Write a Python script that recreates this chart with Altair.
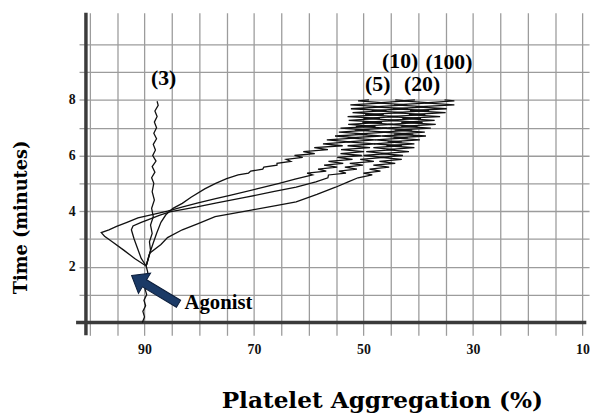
import altair as alt
import pandas as pd

# ---------------- data ----------------
# common baseline trace before agonist addition
base_t = [0.0, 0.2, 0.4, 0.6, 0.8, 1.0, 1.2, 1.4, 1.6, 1.8, 2.03]
base_v = [90.4, 90.0, 90.3, 89.8, 90.1, 89.6, 89.9, 89.5, 89.8, 89.4, 89.7]

# (3)
s3_t = [2.03, 2.3, 2.6, 2.9, 3.2, 3.5, 3.8, 4.1, 4.4, 4.7, 5.0, 5.2, 5.4, 5.6, 5.8,
        6.0, 6.2, 6.4, 6.6, 6.8, 7.0, 7.2, 7.4, 7.6, 7.8, 7.95]
s3_v = [89.7, 89.3, 88.9, 89.1, 88.6, 88.9, 88.4, 88.7, 88.2, 88.6, 88.3, 88.7, 88.1, 88.6, 87.9,
        88.5, 88.0, 88.4, 87.8, 88.3, 87.8, 88.2, 87.7, 88.1, 87.5, 87.7]

# sampling times of the noisy upper part (shared by the four aggregating traces)
zz_t = [5.30, 5.37, 5.44, 5.51, 5.58, 5.65, 5.72, 5.79, 5.86, 5.93,
        6.00, 6.07, 6.14, 6.21, 6.28, 6.35, 6.42, 6.49, 6.56, 6.63,
        6.70, 6.77, 6.84, 6.91, 6.98, 7.05, 7.12, 7.19, 7.26, 7.33,
        7.40, 7.47, 7.54, 7.61, 7.68, 7.75, 7.82, 7.89, 7.96, 8.00]

# (5)
s5_t = [2.03, 2.4, 2.8, 3.2, 3.6, 3.87, 4.1, 4.28, 4.5, 4.8, 5.0, 5.17]
s5_v = [89.7, 89.2, 88.5, 87.8, 87.0, 86.1, 84.8, 83.1, 81.5, 79.0, 77.0, 75.0]
s5_zz = [72.9, 71.0, 70.6, 68.4, 68.2, 65.8, 65.8, 63.3, 64.1, 61.1,
         62.6, 58.9, 61.0, 56.5, 59.0, 53.8, 57.4, 52.4, 56.7, 50.9,
         55.2, 49.3, 54.5, 48.9, 54.2, 47.8, 52.8, 46.6, 52.7, 47.0,
         52.9, 46.3, 52.0, 45.8, 52.3, 46.4, 52.4, 46.1, 51.0, 49.0]

# (10)
s10_t = [2.03, 2.3, 2.6, 2.9, 3.1, 3.23, 3.33, 3.45, 3.6, 3.76, 3.9, 4.0, 4.15, 4.29,
         4.45, 4.57, 4.8, 5.0, 5.15]
s10_v = [89.7, 91.8, 93.8, 95.9, 97.3, 97.9, 96.5, 95.1, 93.2, 91.2, 88.0, 85.8, 83.0, 80.4,
         77.0, 74.4, 69.5, 65.4, 62.5]
s10_zz = [59.3, 60.3, 56.8, 58.3, 54.8, 57.2, 53.7, 56.4, 52.0, 54.8,
          50.3, 54.2, 49.9, 54.1, 48.8, 52.9, 47.8, 53.1, 47.8, 52.9,
          46.7, 51.6, 45.6, 51.6, 45.7, 51.4, 44.6, 50.2, 43.6, 50.0,
          43.7, 49.7, 42.8, 48.5, 41.9, 48.2, 42.0, 47.5, 42.1, 44.2]

# (20)
s20_t = [2.03, 2.3, 2.62, 3.0, 3.33, 3.47, 3.6, 3.69, 3.85, 3.97, 4.15, 4.3, 4.5, 4.7,
         4.86, 5.05, 5.2]
s20_v = [89.7, 90.6, 91.2, 91.9, 92.4, 92.1, 90.6, 89.4, 87.3, 85.4, 80.4, 76.8, 71.4, 66.5,
         62.3, 58.7, 56.5]
s20_zz = [56.4, 53.2, 54.5, 51.2, 53.4, 50.1, 52.5, 48.1, 50.6, 46.2,
          50.0, 45.7, 49.5, 44.3, 48.2, 43.0, 48.1, 43.0, 47.9, 41.9,
          46.7, 40.9, 46.7, 41.1, 46.6, 40.1, 45.5, 39.2, 45.5, 39.5,
          45.6, 38.7, 44.5, 38.0, 44.6, 38.3, 44.4, 37.7, 43.1, 40.6]

# (100)
s100_t = [2.03, 2.5, 2.8, 3.05, 3.33, 3.55, 3.8, 4.04, 4.2, 4.33, 4.6, 4.86, 5.05, 5.2]
s100_v = [89.7, 89.0, 87.0, 85.8, 83.1, 80.2, 77.1, 70.5, 66.0, 62.3, 58.5, 55.1, 52.8, 51.0]
s100_zz = [48.4, 50.0, 46.9, 48.9, 45.3, 48.2, 44.2, 47.1, 43.0, 46.9,
           42.8, 46.8, 41.7, 45.8, 40.7, 45.8, 40.7, 45.6, 39.7, 44.5,
           38.6, 44.4, 38.8, 44.3, 37.7, 43.1, 36.8, 43.1, 37.0, 42.9,
           36.0, 41.7, 35.0, 41.5, 34.8, 40.5, 33.4, 38.8, 33.4, 35.2]

# curve labels
lab_text = ["(3)", "(5)", "(10)", "(20)", "(100)"]
lab_v = [86.5, 47.4, 43.3, 39.3, 34.4]
lab_t = [8.77, 8.58, 9.4, 8.57, 9.35]

# agonist annotation
agonist_text = ["Agonist"]
agonist_v = [82.7]
agonist_t = [0.5]
arrow_v = [88.07]
arrow_t = [1.18]

# axes
x_domain = [8.8, 100.7]
y_domain = [0, 11.13]
x_ticks = [10, 15, 20, 25, 30, 35, 40, 45, 50, 55, 60, 65, 70, 75, 80, 85, 90, 95, 100]
x_labels = [90, 70, 50, 30, 10]
y_ticks = [1, 2, 3, 4, 5, 6, 7, 8, 9, 10]
y_labels = [2, 4, 6, 8]
x_axis_span = [102.5, 9.3]
y_axis_span = [-0.46, 11.13]

# ---------------- build tables ----------------
rows = []
def add(name, ts, vs):
    assert len(ts) == len(vs), name
    for i, (t, v) in enumerate(zip(ts, vs)):
        rows.append({"series": name, "i": i, "t": t, "v": v})

add("base", base_t, base_v)
add("3", s3_t, s3_v)
add("5", s5_t + zz_t, s5_v + s5_zz)
add("10", s10_t + zz_t, s10_v + s10_zz)
add("20", s20_t + zz_t, s20_v + s20_zz)
add("100", s100_t + zz_t, s100_v + s100_zz)
df = pd.DataFrame(rows)

labels = pd.DataFrame({"text": lab_text, "v": lab_v, "t": lab_t})
ag = pd.DataFrame({"text": agonist_text, "v": agonist_v, "t": agonist_t})
arr = pd.DataFrame({"v": arrow_v, "t": arrow_t})
one = pd.DataFrame({"a": [0]})

x_scale = alt.Scale(domain=x_domain, reverse=True, nice=False, zero=False)
y_scale = alt.Scale(domain=y_domain, nice=False, zero=False)

grid_col = "#9c9c9c"
x_axis = alt.Axis(
    values=x_ticks, tickCount=40, format="d",
    labelExpr=f"indexof({x_labels}, datum.value) >= 0 ? datum.label : ''",
    labelOverlap=False,
    grid=True, gridColor=grid_col, gridWidth=1.3,
    ticks=True, tickColor=grid_col, tickWidth=1.3, tickSize=13,
    domain=False,
    labelFont="Liberation Serif", labelFontWeight="bold", labelFontSize=14,
    labelColor="#111", labelPadding=7,
    title="Platelet Aggregation (%)",
    titleFont="DejaVu Serif", titleFontWeight="bold", titleFontSize=23.5,
    titleColor="#000", titleX=300, titleY=86, titleAlign="center",
    titleBaseline="alphabetic",
)
y_axis = alt.Axis(
    values=y_ticks, tickCount=40, format="d",
    labelExpr=f"indexof({y_labels}, datum.value) >= 0 ? datum.label : ''",
    labelOverlap=False,
    grid=True, gridColor=grid_col, gridWidth=1.3,
    ticks=True, tickColor=grid_col, tickWidth=1.3, tickSize=7,
    domain=False,
    labelFont="Liberation Serif", labelFontWeight="bold", labelFontSize=14,
    labelColor="#111", labelPadding=4,
    title="Time (minutes)",
    titleFont="DejaVu Serif", titleFontWeight="bold", titleFontSize=18,
    titleColor="#000", titleX=-65, titleY=207, titleAlign="center",
    titleBaseline="middle", titleAngle=270,
)

lines = alt.Chart(df).mark_line(color="#111", strokeWidth=1.3).encode(
    x=alt.X("v:Q", scale=x_scale, axis=x_axis),
    y=alt.Y("t:Q", scale=y_scale, axis=y_axis),
    detail="series:N",
    order="i:Q",
)

x_rule = alt.Chart(one).mark_rule(color="#3b3b3b", strokeWidth=3.5).encode(
    x=alt.datum(x_axis_span[0]), x2=alt.datum(x_axis_span[1]), y=alt.datum(0)
)
y_rule = alt.Chart(one).mark_rule(color="#3b3b3b", strokeWidth=3.5).encode(
    x=alt.datum(x_domain[1]), y=alt.datum(y_axis_span[0]), y2=alt.datum(y_axis_span[1])
)

lab = alt.Chart(labels).mark_text(
    font="Liberation Serif", fontWeight="bold", fontSize=22, color="#000",
    align="center", baseline="middle"
).encode(x="v:Q", y="t:Q", text="text:N")

ag_text = alt.Chart(ag).mark_text(
    font="Liberation Serif", fontWeight="bold", fontSize=21, color="#000",
    align="left", baseline="alphabetic"
).encode(x="v:Q", y="t:Q", text="text:N")

arrow_shape = "M-1,0L-0.45,-0.43L-0.45,-0.15L1,-0.15L1,0.15L-0.45,0.15L-0.45,0.43Z"
arrow = alt.Chart(arr).mark_point(
    shape=arrow_shape, size=3080, angle=31, filled=True,
    fill="#1b3a66", stroke="#0b1d3a", strokeWidth=1, opacity=1
).encode(x="v:Q", y="t:Q")

chart = alt.layer(x_rule, y_rule, lines, arrow, lab, ag_text).properties(
    width=510, height=314,
    autosize=alt.AutoSizeParams(type="none"),
    padding={"left": 79, "top": 2, "right": 3, "bottom": 91},
    background="white",
).configure_view(strokeWidth=0)

chart.save("out.html", embed_options={"renderer": "svg", "actions": False})
